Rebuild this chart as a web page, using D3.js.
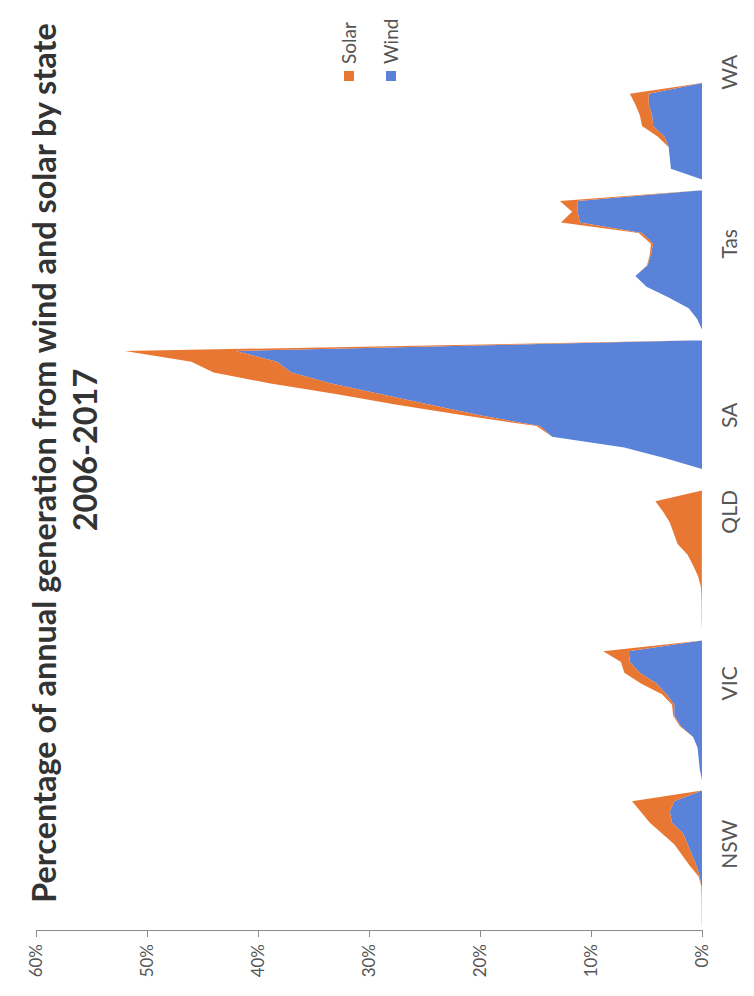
<!DOCTYPE html>
<html><head><meta charset="utf-8">
<script src="https://cdn.jsdelivr.net/npm/d3@7/dist/d3.min.js"></script>
<style>
body{margin:0;background:#fff}
svg text{font-family:Lato,"Open Sans",sans-serif}
</style>
</head><body>
<svg id="chart" width="754" height="996"></svg>
<script>
// ---------- data (percent of annual generation) ----------
const states = ["NSW","VIC","QLD","SA","Tas","WA"];
const years = [2006,2007,2008,2009,2010,2011,2012,2013,2014,2015,2016,2017];
const yearsWA = [2006,2007,2008,2009,2010,2011,2012,2013];
const seriesNames = ["Solar","Wind"];
const tickValues = [0,10,20,30,40,50,60];

const windNSW  = [0.02,0.02,0.03,0.05,0.2,0.5,0.9,1.3,1.7,2.7,2.9,2.5];
const solarNSW = [0,0,0,0,0.1,0.6,0.9,1.2,1.9,2.0,2.6,3.8];
const windVIC  = [0.2,0.3,0.4,0.8,1.9,2.5,2.5,3.2,4.1,5.6,6.5,6.6];
const solarVIC = [0,0,0,0,0.1,0.1,0.2,0.4,1.4,1.4,0.8,2.3];
const windQLD  = [0.02,0.02,0.02,0.02,0.02,0.02,0.02,0.02,0.02,0.02,0.02,0.02];
const solarQLD = [0.01,0.01,0.03,0.08,0.33,0.78,1.28,2.18,2.53,2.88,3.48,4.18];
const windSA   = [0,3.3,7.0,13.5,14.6,20,24.5,29,33.5,37,38.3,42];
const solarSA  = [0,0,0,0,0.3,1.5,3,4,5.5,7,7.7,10];
const windTas  = [0.45,1.2,3.0,5.0,6.0,4.9,4.6,4.4,5.4,11.0,11.2,11.2];
const solarTas = [0,0,0,0,0,0.05,0.1,0.2,0.3,1.7,0.5,1.6];
const windWA   = [2.8,2.9,3.0,3.4,4.4,4.5,4.8,4.8];
const solarWA  = [0,0,0,0.6,1.0,1.1,1.2,1.7];

const colors = {Solar:"#e97734", Wind:"#5982d8"};
// slot (counted from each state's first zero slot) at which its label sits
const labelSlot = [8,9,11,6,8,10];

// ---------- build rows: a zero slot before and after each state ----------
const byState = {
  NSW:[years,windNSW,solarNSW], VIC:[years,windVIC,solarVIC], QLD:[years,windQLD,solarQLD],
  SA:[years,windSA,solarSA], Tas:[years,windTas,solarTas], WA:[yearsWA,windWA,solarWA]
};
const rows = [];
states.forEach(s=>{
  const [yrs,w,so] = byState[s];
  rows.push({key:s+"-a",Wind:0,Solar:0});
  yrs.forEach((yr,i)=>rows.push({key:s+"-"+yr,Wind:w[i],Solar:so[i]}));
  rows.push({key:s+"-b",Wind:0,Solar:0});
});

const svg = d3.select("#chart");
const x = d3.scaleLinear().domain([0,60]).range([702,36]);
const y = d3.scalePoint().domain(rows.map(r=>r.key)).range([930,83]);

const stack = d3.stack().keys(["Wind","Solar"]);
const layers = stack(rows);
const area = d3.area()
  .y(d=>y(d.data.key))
  .x0(d=>x(d[0]))
  .x1(d=>x(d[1]));

svg.append("g").selectAll("path").data(layers).join("path")
  .attr("d",area)
  .attr("fill",d=>colors[d.key]);

// ---------- value axis (bottom) ----------
const axis = svg.append("g").attr("transform","translate(0,930)")
  .call(d3.axisBottom(x).tickValues(tickValues).tickFormat(d=>d+"%").tickSize(7).tickSizeOuter(0));
axis.select(".domain").attr("stroke","#8a8a8a");
axis.selectAll(".tick line").attr("stroke","#8a8a8a");
axis.selectAll(".tick text")
  .attr("transform","rotate(-90)")
  .attr("x",-14).attr("y",0).attr("dy","0.35em")
  .attr("text-anchor","end")
  .attr("fill","#555").style("font-size","17px").style("font-family","Lato, sans-serif");

// ---------- category labels ----------
states.forEach((s,i)=>{
  const yc = y(s+"-a") - labelSlot[i]*y.step();
  svg.append("text")
    .attr("transform",`translate(737,${yc}) rotate(-90)`)
    .attr("text-anchor","middle")
    .attr("fill","#555").style("font-size","21px")
    .text(s);
});

// ---------- title ----------
const t1 = svg.append("text")
  .attr("transform","translate(56,463) rotate(-90)")
  .attr("text-anchor","middle").attr("fill","#333")
  .style("font-weight","700").style("font-size","28px")
  .text("Percentage of annual generation from wind and solar by state");
const len = t1.node().getComputedTextLength();
const fs = 28*880/len;
t1.style("font-size",fs+"px");
svg.append("text")
  .attr("transform","translate(97,450) rotate(-90)")
  .attr("text-anchor","middle").attr("fill","#333")
  .style("font-weight","700").style("font-size",fs+"px")
  .text("2006-2017");

// ---------- legend ----------
const legX = {Solar:349, Wind:391};
seriesNames.forEach(n=>{
  svg.append("rect").attr("x",legX[n]-5).attr("y",71).attr("width",10).attr("height",10).attr("fill",colors[n]);
  svg.append("text")
    .attr("transform",`translate(${legX[n]+7},64) rotate(-90)`)
    .attr("text-anchor","start").attr("fill","#555").style("font-size","19px")
    .text(n);
});
</script>
</body></html>
